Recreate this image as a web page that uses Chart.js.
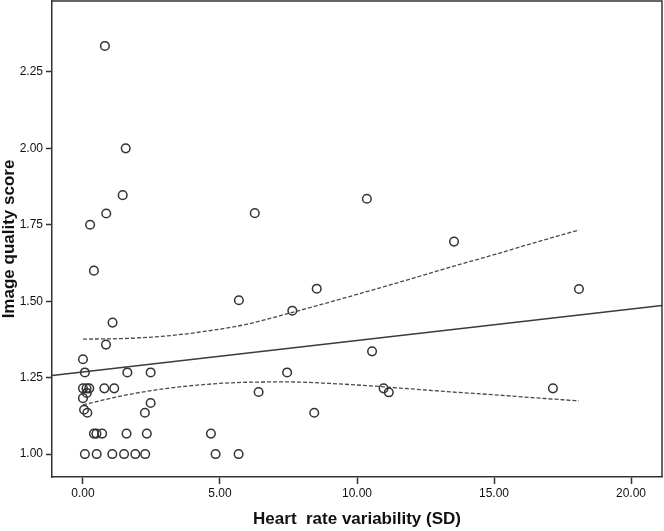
<!DOCTYPE html>
<html>
<head>
<meta charset="utf-8">
<script src="https://cdn.jsdelivr.net/npm/chart.js@4.4.0/dist/chart.umd.min.js"></script>
<style>
  html, body { margin: 0; padding: 0; background: #ffffff; }
  #wrap { width: 664px; height: 531px; }
</style>
</head>
<body>
<div id="wrap"><canvas id="c" width="664" height="531"></canvas></div>
<script>
// ---- data ----
const hrvSD = [0.80, 1.56, 1.45, 0.85, 0.26, 0.40, 1.08, 0.84, 0.00, 0.07, 1.62, 2.47,
  0.00, 0.13, 0.23, 0.78, 1.14, 0.14, 0.00, 0.04, 0.16, 2.47, 2.26,
  0.40, 0.49, 0.70, 1.59, 2.33, 4.67,
  0.07, 0.50, 1.07, 1.50, 1.91, 2.27, 4.84, 5.68,
  6.27, 10.36, 5.69, 8.53, 7.64, 10.55, 7.45, 6.41, 10.97, 11.16, 8.44,
  13.54, 18.10, 17.15];
const imageQuality = [2.335, 2.00, 1.847, 1.787, 1.75, 1.60, 1.43, 1.358, 1.31, 1.267, 1.267, 1.267,
  1.215, 1.215, 1.215, 1.215, 1.215, 1.20, 1.183, 1.145, 1.135, 1.167, 1.135,
  1.067, 1.067, 1.067, 1.067, 1.067, 1.067,
  1.00, 1.00, 1.00, 1.00, 1.00, 1.00, 1.00, 1.00,
  1.788, 1.835, 1.503, 1.541, 1.469, 1.336, 1.267, 1.203, 1.215, 1.202, 1.135,
  1.695, 1.54, 1.215];

const fitX = [-1.13, 21.13];
const fitY = [1.257, 1.486];

const bandX = [0.0, 1.5, 3.0, 4.5, 6.0, 7.5, 9.0, 10.5, 12.0, 13.5, 15.0, 16.5, 18.1];
const upperCI = [1.376, 1.378, 1.386, 1.402, 1.425, 1.460, 1.497, 1.535, 1.574, 1.614, 1.652, 1.692, 1.733];
const lowerCI = [1.161, 1.192, 1.214, 1.228, 1.235, 1.236, 1.231, 1.223, 1.213, 1.203, 1.194, 1.184, 1.174];

const xTicks = [0, 5, 10, 15, 20];
const yTicks = [1.00, 1.25, 1.50, 1.75, 2.00, 2.25];

const xTitle = 'Heart  rate variability (SD)';
const yTitle = 'Image quality score';

// ---- build datasets ----
const pts = hrvSD.map((x, i) => ({ x: x, y: imageQuality[i] }));
const fitPts = fitX.map((x, i) => ({ x: x, y: fitY[i] }));
const upPts = bandX.map((x, i) => ({ x: x, y: upperCI[i] }));
const loPts = bandX.map((x, i) => ({ x: x, y: lowerCI[i] }));

const ink = '#333333';
const tickFont = { family: "'Liberation Sans', Arial, sans-serif", size: 12 };
const titleFont = { family: "'Liberation Sans', Arial, sans-serif", size: 17, weight: 'bold', lineHeight: 1 };

const framePlugin = {
  id: 'frame',
  afterDatasetsDraw(chart) {
    const { ctx, chartArea: a } = chart;
    ctx.save();
    ctx.strokeStyle = ink;
    ctx.lineWidth = 1.5;
    ctx.beginPath();
    ctx.moveTo(a.left, a.top);
    ctx.lineTo(a.right, a.top);
    ctx.lineTo(a.right, a.bottom);
    ctx.stroke();
    ctx.restore();
  }
};

new Chart(document.getElementById('c'), {
  type: 'scatter',
  data: {
    datasets: [
      { label: 'Fit', data: fitPts, showLine: true, pointRadius: 0, borderColor: '#3a3a3a', borderWidth: 1.3, order: 2 },
      { label: 'Upper', data: upPts, showLine: true, pointRadius: 0, borderColor: '#4a4a4a', borderWidth: 1.3, borderDash: [4, 2], cubicInterpolationMode: 'monotone', order: 3 },
      { label: 'Lower', data: loPts, showLine: true, pointRadius: 0, borderColor: '#4a4a4a', borderWidth: 1.3, borderDash: [4, 2], cubicInterpolationMode: 'monotone', order: 4 },
      { label: 'Cases', data: pts, pointStyle: 'circle', pointRadius: 4.3, pointBorderWidth: 1.5, borderColor: ink, backgroundColor: 'rgba(0,0,0,0)', pointBackgroundColor: 'rgba(0,0,0,0)', order: 1 }
    ]
  },
  options: {
    responsive: false,
    animation: false,
    events: [],
    layout: { autoPadding: false, padding: { top: 1, right: 2, left: 0, bottom: 0 } },
    plugins: { legend: { display: false }, tooltip: { enabled: false } },
    scales: {
      x: {
        type: 'linear',
        min: -1.13, max: 21.13,
        afterBuildTicks: (s) => { s.ticks = xTicks.map(v => ({ value: v })); },
        afterFit: (s) => { s.height = 54; s.paddingLeft = 0; s.paddingRight = 0; },
        border: { display: true, color: ink, width: 1.5 },
        grid: { display: true, drawOnChartArea: false, drawTicks: true, tickLength: 7, tickWidth: 1.5, tickColor: ink },
        ticks: { color: '#111', font: tickFont, padding: 2, maxRotation: 0, callback: (v) => Number(v).toFixed(2) },
        title: { display: true, text: xTitle, color: '#111', font: titleFont, padding: { top: 0, bottom: 3 } }
      },
      y: {
        type: 'linear',
        min: 0.925, max: 2.482,
        afterBuildTicks: (s) => { s.ticks = yTicks.map(v => ({ value: v })); },
        afterFit: (s) => { s.width = 52; s.paddingTop = 0; s.paddingBottom = 0; },
        border: { display: true, color: ink, width: 1.5 },
        grid: { display: true, drawOnChartArea: false, drawTicks: true, tickLength: 6, tickWidth: 1.5, tickColor: ink },
        ticks: { color: '#111', font: tickFont, padding: 3, callback: (v) => Number(v).toFixed(2) },
        title: { display: true, text: yTitle, color: '#111', font: titleFont, padding: { top: 1, bottom: 0 } }
      }
    }
  },
  plugins: [framePlugin]
});
</script>
</body>
</html>
